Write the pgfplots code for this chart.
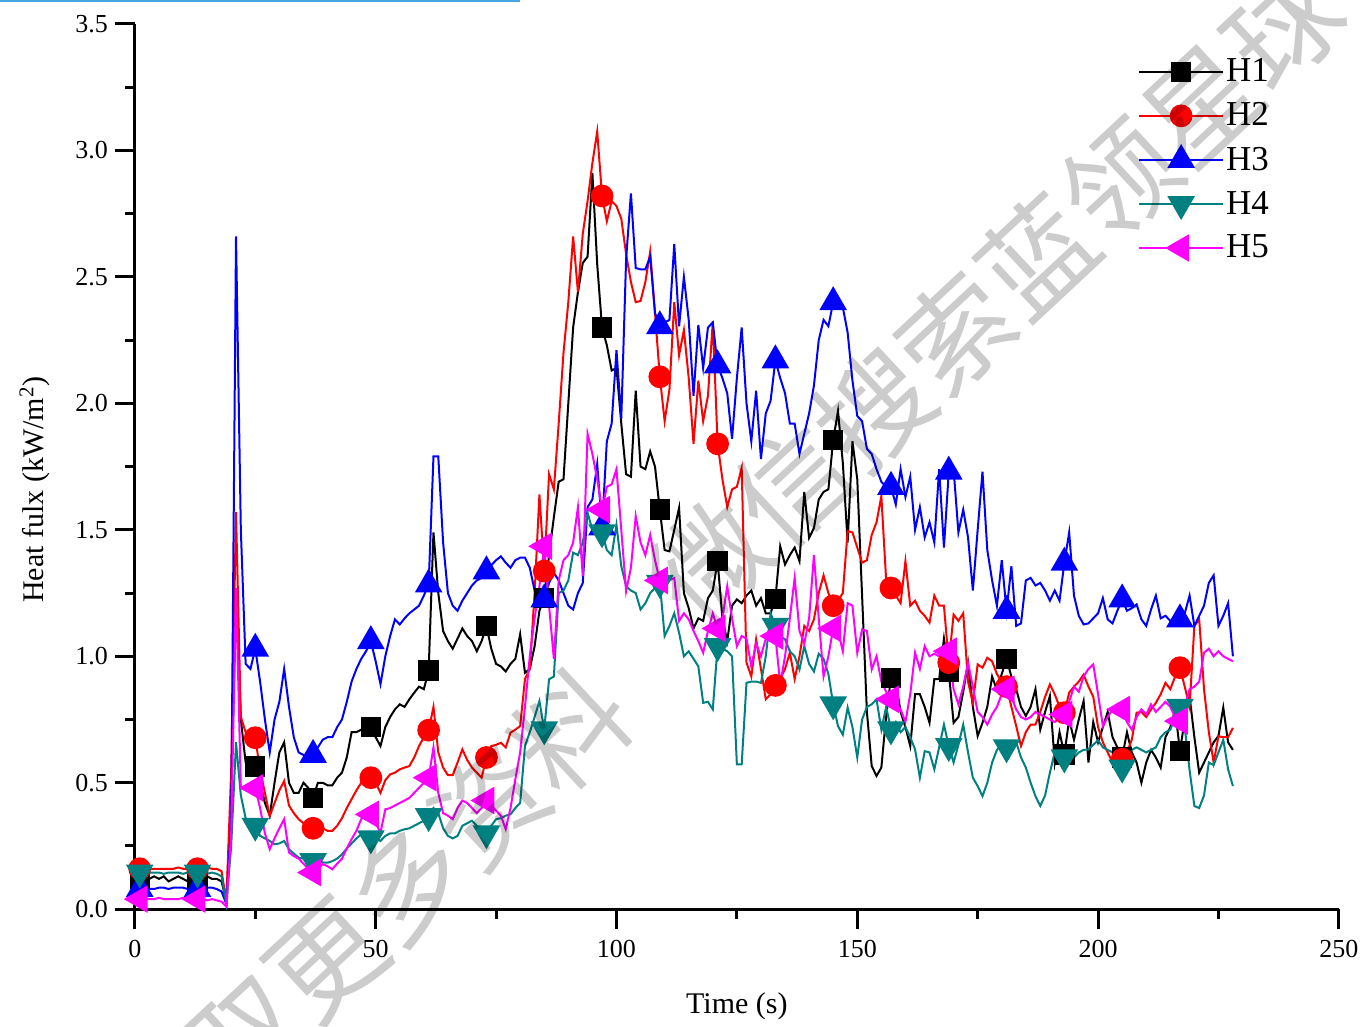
\documentclass[border=0pt]{standalone}
\usepackage{fontspec}
\setmainfont{Liberation Serif}
\newfontfamily\cjk{Noto Sans CJK SC}
\usepackage{pgfplots}
\usepackage{pgfplotstable}
\pgfplotsset{compat=1.18}

\definecolor{hteal}{RGB}{0,128,128}
\definecolor{hmag}{RGB}{255,0,255}
\definecolor{topblue}{RGB}{70,165,225}

% heat flux at the five gauges, one row per second
\pgfplotstableread{
t h1 h2 h3 h4 h5
0 0.12 0.165 0.07 0.14 0.035
1 0.12 0.16 0.08 0.145 0.04
2 0.13 0.16 0.085 0.14 0.04
3 0.12 0.16 0.08 0.145 0.04
4 0.13 0.16 0.08 0.145 0.04
5 0.12 0.16 0.085 0.145 0.045
6 0.13 0.16 0.085 0.14 0.04
7 0.11 0.16 0.08 0.145 0.04
8 0.12 0.16 0.085 0.145 0.04
9 0.13 0.165 0.085 0.145 0.04
10 0.12 0.16 0.085 0.14 0.045
11 0.11 0.16 0.08 0.145 0.045
12 0.13 0.16 0.08 0.145 0.04
13 0.11 0.16 0.08 0.145 0.04
14 0.12 0.16 0.085 0.145 0.04
15 0.13 0.165 0.085 0.14 0.035
16 0.12 0.16 0.085 0.145 0.04
17 0.12 0.16 0.08 0.14 0.035
18 0.11 0.15 0.07 0.13 0.03
19 0.03 0.03 0.02 0.02 0.01
20 0.45 0.55 0.35 0.25 0.30
21 1.22 1.57 2.66 0.66 1.27
22 0.75 0.76 1.50 0.45 0.48
23 0.58 0.70 0.97 0.36 0.47
24 0.57 0.66 0.95 0.34 0.48
25 0.565 0.678 1.03 0.33 0.48
26 0.50 0.55 0.90 0.29 0.40
27 0.42 0.46 0.75 0.28 0.30
28 0.37 0.368 0.62 0.27 0.237
29 0.50 0.42 0.75 0.257 0.28
30 0.62 0.47 0.82 0.26 0.32
31 0.66 0.507 0.95 0.27 0.356
32 0.50 0.41 0.80 0.237 0.224
33 0.46 0.38 0.68 0.22 0.21
34 0.46 0.356 0.62 0.204 0.20
35 0.50 0.34 0.61 0.20 0.18
36 0.48 0.33 0.61 0.19 0.16
37 0.44 0.32 0.61 0.19 0.145
38 0.50 0.32 0.64 0.19 0.16
39 0.50 0.32 0.67 0.185 0.178
40 0.49 0.31 0.68 0.184 0.17
41 0.49 0.31 0.68 0.19 0.158
42 0.52 0.33 0.72 0.20 0.18
43 0.54 0.36 0.75 0.217 0.20
44 0.60 0.40 0.82 0.24 0.24
45 0.70 0.435 0.90 0.26 0.277
46 0.70 0.47 0.95 0.28 0.31
47 0.71 0.50 0.99 0.296 0.356
48 0.72 0.52 1.02 0.29 0.37
49 0.72 0.52 1.06 0.28 0.375
50 0.68 0.50 0.98 0.28 0.34
51 0.645 0.46 0.89 0.27 0.303
52 0.72 0.51 1.00 0.29 0.395
53 0.76 0.533 1.08 0.30 0.40
54 0.79 0.54 1.146 0.30 0.41
55 0.81 0.553 1.126 0.31 0.42
56 0.80 0.56 1.15 0.316 0.43
57 0.83 0.566 1.17 0.32 0.44
58 0.856 0.60 1.185 0.33 0.46
59 0.88 0.645 1.20 0.34 0.48
60 0.87 0.68 1.24 0.35 0.50
61 0.944 0.708 1.284 0.368 0.52
62 1.49 0.80 1.79 0.40 0.64
63 1.25 0.62 1.79 0.38 0.46
64 1.10 0.56 1.45 0.32 0.38
65 1.06 0.53 1.25 0.29 0.37
66 1.03 0.53 1.20 0.28 0.356
67 1.07 0.58 1.18 0.29 0.40
68 1.11 0.632 1.22 0.33 0.43
69 1.08 0.59 1.25 0.34 0.42
70 1.06 0.56 1.28 0.35 0.40
71 1.02 0.54 1.30 0.33 0.38
72 1.06 0.52 1.31 0.31 0.40
73 1.12 0.60 1.336 0.30 0.43
74 1.03 0.645 1.36 0.33 0.41
75 0.97 0.65 1.38 0.356 0.39
76 0.96 0.658 1.395 0.36 0.37
77 0.94 0.64 1.37 0.37 0.316
78 0.97 0.698 1.35 0.375 0.40
79 0.99 0.71 1.38 0.40 0.514
80 1.087 0.724 1.39 0.42 0.62
81 0.935 0.91 1.39 0.645 0.80
82 0.95 0.95 1.35 0.70 1.00
83 1.04 1.25 1.26 0.76 1.15
84 1.18 1.64 1.22 0.823 1.277
85 1.23 1.337 1.225 0.711 1.435
86 1.40 1.72 1.29 0.909 1.20
87 1.55 1.66 1.33 0.92 0.99
88 1.69 1.92 1.30 1.25 1.30
89 1.70 2.20 1.25 1.26 1.38
90 2.00 2.40 1.20 1.30 1.40
91 2.30 2.66 1.185 1.41 1.45
92 2.44 2.44 1.25 1.40 1.59
93 2.555 2.67 1.29 1.45 1.317
94 2.58 2.80 1.59 1.567 1.88
95 2.91 2.95 1.62 1.50 1.80
96 2.55 3.075 1.76 1.52 1.70
97 2.30 2.82 1.51 1.49 1.58
98 2.23 2.72 1.85 1.42 1.67
99 2.13 2.80 1.92 1.40 1.68
100 2.14 2.78 2.21 1.52 1.74
101 1.92 2.73 1.94 1.356 1.50
102 1.72 2.59 2.57 1.277 1.257
103 1.71 2.48 2.83 1.26 1.35
104 2.05 2.40 2.535 1.25 1.554
105 1.75 2.405 2.53 1.185 1.45
106 1.74 2.48 2.53 1.21 1.40
107 1.81 2.60 2.58 1.25 1.48
108 1.75 2.357 2.357 1.27 1.38
109 1.58 2.105 2.305 1.29 1.30
110 1.42 1.93 2.32 1.08 1.28
111 1.415 2.055 2.33 1.12 1.30
112 1.50 2.40 2.63 1.17 1.31
113 1.587 2.19 2.305 1.093 1.14
114 1.25 2.29 2.50 1.00 1.17
115 1.19 2.10 2.33 1.02 1.146
116 1.11 1.84 2.03 0.99 1.10
117 1.15 2.09 2.31 0.96 1.06
118 1.14 1.93 2.14 0.816 1.014
119 1.23 2.03 2.30 0.82 1.10
120 1.26 2.325 2.32 0.79 1.17
121 1.376 1.84 2.15 1.04 1.11
122 1.15 1.70 2.10 1.03 1.15
123 1.06 1.59 2.04 1.02 1.277
124 1.20 1.66 1.86 1.00 1.15
125 1.225 1.67 2.10 0.573 1.04
126 1.21 1.745 2.30 0.573 1.08
127 1.24 0.975 2.00 0.895 1.07
128 1.26 0.92 1.85 0.90 0.96
129 1.20 1.067 2.05 0.90 1.05
130 1.23 0.95 1.78 0.895 1.00
131 1.17 0.83 1.96 1.00 1.07
132 1.17 0.85 2.01 1.17 1.12
133 1.227 0.885 2.17 1.12 1.08
134 1.435 0.91 2.10 1.08 0.89
135 1.363 0.95 2.04 1.067 1.00
136 1.40 1.014 1.92 1.02 1.15
137 1.43 0.91 1.92 1.00 1.31
138 1.376 1.00 1.80 0.948 1.10
139 1.65 1.12 1.88 1.04 1.05
140 1.468 1.10 1.96 0.97 1.15
141 1.507 1.146 2.07 0.94 1.40
142 1.62 1.25 2.25 1.01 1.15
143 1.65 1.32 2.33 0.99 0.92
144 1.66 1.25 2.305 0.93 1.00
145 1.854 1.20 2.40 0.81 1.11
146 1.97 1.22 2.42 0.724 1.10
147 1.765 1.25 2.38 0.69 1.02
148 1.45 1.495 2.28 0.797 1.21
149 1.85 1.49 2.09 0.72 1.20
150 1.70 1.43 1.95 0.60 1.014
151 1.24 1.37 1.93 0.75 1.106
152 0.78 1.38 1.82 0.80 1.10
153 0.566 1.48 1.80 0.81 0.948
154 0.527 1.53 1.74 0.83 1.00
155 0.56 1.633 1.69 0.71 0.90
156 0.764 1.30 1.67 0.80 0.86
157 0.915 1.27 1.67 0.711 0.83
158 0.90 1.24 1.60 0.74 0.82
159 0.78 1.21 1.74 0.70 0.79
160 0.72 1.376 1.63 0.72 0.74
161 0.645 1.20 1.71 0.68 0.85
162 0.85 1.22 1.50 0.632 1.014
163 0.85 1.18 1.59 0.52 0.95
164 0.80 1.16 1.47 0.625 1.04
165 0.737 1.133 1.53 0.62 1.00
166 0.91 1.24 1.45 0.553 1.01
167 0.91 1.20 1.74 0.64 1.00
168 1.07 1.20 1.43 0.73 1.03
169 0.94 0.975 1.73 0.645 1.02
170 0.737 1.165 1.74 0.58 0.87
171 0.76 1.14 1.49 0.65 0.81
172 0.86 1.17 1.58 0.73 0.88
173 0.975 0.90 1.47 0.62 0.974
174 0.80 0.816 1.26 0.52 0.88
175 0.685 0.968 1.50 0.487 0.78
176 0.737 0.955 1.73 0.447 0.76
177 0.80 0.994 1.42 0.50 0.73
178 0.92 0.98 1.30 0.58 0.77
179 0.866 0.93 1.20 0.63 0.80
180 0.93 0.90 1.38 0.65 0.85
181 0.99 0.88 1.18 0.64 0.87
182 0.92 0.80 1.356 0.65 0.84
183 0.87 0.724 1.12 0.66 0.79
184 0.80 0.645 1.13 0.60 0.76
185 0.764 0.70 1.30 0.56 0.75
186 0.80 0.73 1.31 0.50 0.76
187 0.87 0.73 1.28 0.447 0.78
188 0.71 0.78 1.29 0.408 0.77
189 0.78 0.84 1.26 0.45 0.76
190 0.843 0.889 1.22 0.54 0.75
191 0.58 0.85 1.26 0.62 0.74
192 0.70 0.80 1.22 0.61 0.757
193 0.612 0.777 1.37 0.60 0.77
194 0.75 0.856 1.49 0.58 0.82
195 0.67 0.88 1.24 0.60 0.88
196 0.75 0.90 1.16 0.62 0.86
197 0.823 0.928 1.126 0.63 0.92
198 0.58 0.88 1.13 0.632 0.95
199 0.74 0.84 1.15 0.65 0.968
200 0.66 0.72 1.17 0.668 0.85
201 0.72 0.66 1.23 0.64 0.724
202 0.78 0.62 1.146 0.63 0.76
203 0.68 0.58 1.13 0.62 0.79
204 0.64 0.59 1.18 0.58 0.81
205 0.60 0.593 1.225 0.56 0.79
206 0.70 0.62 1.18 0.60 0.74
207 0.62 0.67 1.19 0.63 0.71
208 0.58 0.777 1.205 0.64 0.76
209 0.50 0.78 1.146 0.63 0.79
210 0.58 0.76 1.12 0.62 0.77
211 0.63 0.79 1.185 0.63 0.81
212 0.60 0.816 1.24 0.64 0.78
213 0.56 0.85 1.15 0.68 0.80
214 0.68 0.895 1.16 0.70 0.82
215 0.72 0.87 1.14 0.71 0.80
216 0.79 0.92 1.14 0.76 0.76
217 0.625 0.955 1.146 0.80 0.744
218 0.75 0.88 1.17 0.72 0.80
219 0.843 0.80 1.24 0.55 0.87
220 0.68 1.12 1.12 0.408 0.88
221 0.54 1.146 1.16 0.40 0.90
222 0.58 0.87 1.20 0.45 1.014
223 0.62 0.70 1.29 0.58 1.03
224 0.66 0.58 1.32 0.57 1.00
225 0.685 0.684 1.12 0.62 1.02
226 0.797 0.68 1.16 0.67 1.00
227 0.66 0.68 1.21 0.553 0.99
228 0.63 0.717 1.00 0.487 0.98
}\fluxdata

\begin{document}
\begin{tikzpicture}
\begin{axis}[
    at={(0pt,0pt)}, anchor=south west,
    scale only axis,
    width=602.5pt, height=443pt,
    xmin=0, xmax=250, ymin=0, ymax=3.5,
    axis lines*=left,
    axis line style={line width=1.5pt},
    xtick={0,50,...,250},
    ytick={0,0.5,...,3.5},
    minor x tick num=1,
    minor y tick num=1,
    tick align=outside,
    major tick length=10pt,
    minor tick length=5pt,
    tick style={black, line width=1.5pt},
    /pgf/number format/assume math mode=true,
    yticklabel style={/pgf/number format/fixed, /pgf/number format/fixed zerofill, /pgf/number format/precision=1},
    xticklabel style={yshift=-2pt},
    tick label style={font=\fontsize{13}{15}\selectfont},
    label style={font=\fontsize{15}{18}\selectfont},
    xlabel={Time (s)},
    ylabel={Heat fulx (kW/m\textsuperscript{2})},
    xlabel style={at={(axis description cs:0.5,-0.1095)}, anchor=center},
    ylabel style={at={(axis description cs:-0.083,0.474)}, anchor=center},
    legend style={draw=none, fill=none, at={(rel axis cs:0.828,0.968)}, anchor=north west,
        font=\fontsize{17.5}{20}\selectfont, row sep=7pt,
        nodes={inner sep=1pt}},
    legend cell align=left,
    legend image code/.code={
        \draw[#1, mark repeat=2, mark phase=2] plot coordinates {(0pt,0pt) (21pt,0pt) (42pt,0pt)};
    },
    every axis plot/.append style={line width=1pt, mark repeat=12, mark phase=2},
]
\addplot[black, mark=square*, mark size=4.6pt, mark options={solid}] table[x=t, y=h1] {\fluxdata};
\addlegendentry{H1}
\addplot[red, mark=*, mark size=5.2pt, mark options={solid}] table[x=t, y=h2] {\fluxdata};
\addlegendentry{H2}
\addplot[blue, mark=triangle*, mark size=7pt, mark options={solid}] table[x=t, y=h3] {\fluxdata};
\addlegendentry{H3}
\addplot[hteal, mark=triangle*, mark size=7pt, mark options={solid, rotate=180}] table[x=t, y=h4] {\fluxdata};
\addlegendentry{H4}
\addplot[hmag, mark=triangle*, mark size=7pt, mark options={solid, rotate=90}] table[x=t, y=h5] {\fluxdata};
\addlegendentry{H5}
\end{axis}

% page frame: same proportions as the reference
\path ([shift={(-67.5pt,-57pt)}]current axis.south west) rectangle ([shift={(12.5pt,12pt)}]current axis.north east);

% screenshot edge and watermark
\draw[topblue, line width=1.5pt, overlay] (-67.5pt,454.5pt) -- (192.5pt,454.5pt);
\begin{scope}[overlay, opacity=0.2]
  \node[rotate=43, font=\cjk\fontsize{56}{56}\selectfont] at (115.75pt,-6pt) {获取更多资料};
  \node[rotate=43, font=\cjk\fontsize{56}{56}\selectfont] at (431.25pt,307.5pt) {微信搜索蓝领星球};
\end{scope}
\end{tikzpicture}
\end{document}
